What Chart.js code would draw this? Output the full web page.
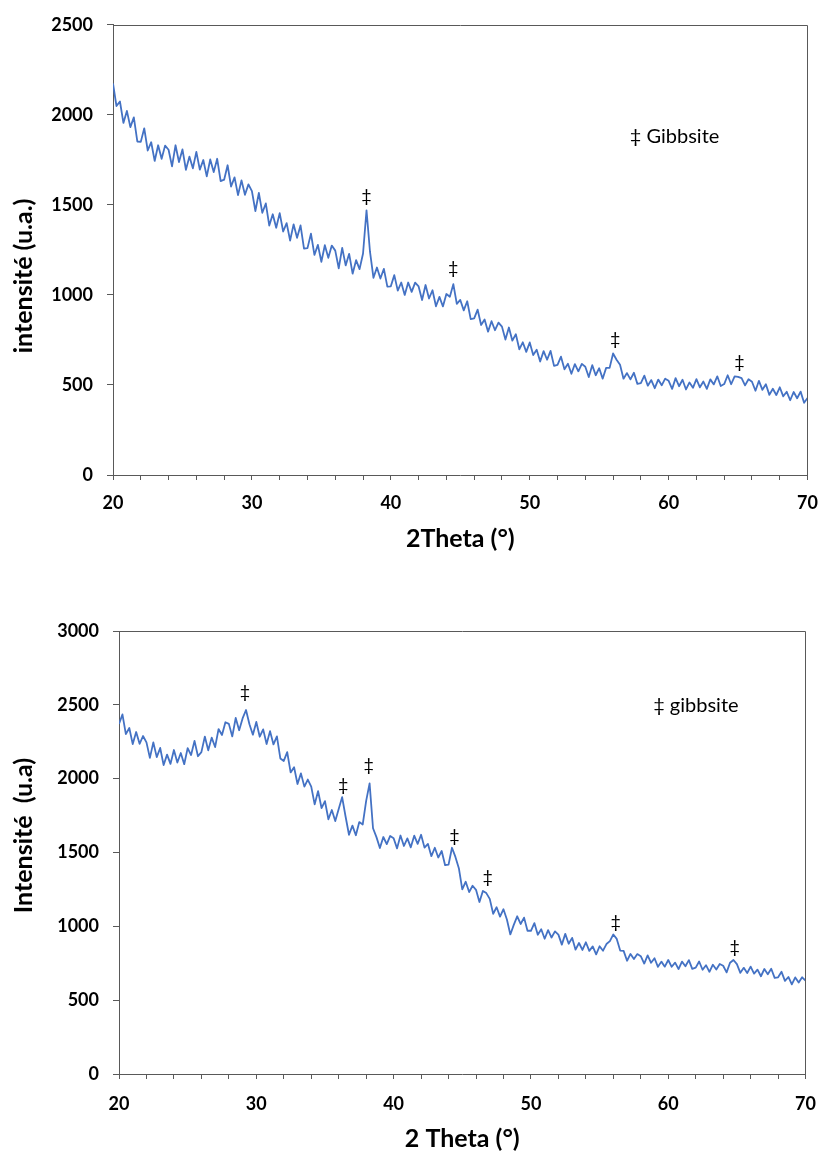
<!DOCTYPE html>
<html>
<head>
<meta charset="utf-8">
<script src="https://cdn.jsdelivr.net/npm/chart.js@4.4.1/dist/chart.umd.min.js"></script>
<style>
  html, body { margin: 0; padding: 0; background: #fff; overflow: hidden; }
  .box { position: absolute; left: 0; width: 830px; }
</style>
</head>
<body>
<div class="box" style="top:0;height:560px"><canvas id="chart1"></canvas></div>
<div class="box" style="top:600px;height:551px"><canvas id="chart2"></canvas></div>
<script>
// 2 theta angles (deg), same for both patterns
const angles = [
  20, 20.25, 20.5, 20.75, 21, 21.25, 21.5, 21.75,
  22, 22.25, 22.5, 22.75, 23, 23.25, 23.5, 23.75,
  24, 24.25, 24.5, 24.75, 25, 25.25, 25.5, 25.75,
  26, 26.25, 26.5, 26.75, 27, 27.25, 27.5, 27.75,
  28, 28.25, 28.5, 28.75, 29, 29.25, 29.5, 29.75,
  30, 30.25, 30.5, 30.75, 31, 31.25, 31.5, 31.75,
  32, 32.25, 32.5, 32.75, 33, 33.25, 33.5, 33.75,
  34, 34.25, 34.5, 34.75, 35, 35.25, 35.5, 35.75,
  36, 36.25, 36.5, 36.75, 37, 37.25, 37.5, 37.75,
  38, 38.25, 38.5, 38.75, 39, 39.25, 39.5, 39.75,
  40, 40.25, 40.5, 40.75, 41, 41.25, 41.5, 41.75,
  42, 42.25, 42.5, 42.75, 43, 43.25, 43.5, 43.75,
  44, 44.25, 44.5, 44.75, 45, 45.25, 45.5, 45.75,
  46, 46.25, 46.5, 46.75, 47, 47.25, 47.5, 47.75,
  48, 48.25, 48.5, 48.75, 49, 49.25, 49.5, 49.75,
  50, 50.25, 50.5, 50.75, 51, 51.25, 51.5, 51.75,
  52, 52.25, 52.5, 52.75, 53, 53.25, 53.5, 53.75,
  54, 54.25, 54.5, 54.75, 55, 55.25, 55.5, 55.75,
  56, 56.25, 56.5, 56.75, 57, 57.25, 57.5, 57.75,
  58, 58.25, 58.5, 58.75, 59, 59.25, 59.5, 59.75,
  60, 60.25, 60.5, 60.75, 61, 61.25, 61.5, 61.75,
  62, 62.25, 62.5, 62.75, 63, 63.25, 63.5, 63.75,
  64, 64.25, 64.5, 64.75, 65, 65.25, 65.5, 65.75,
  66, 66.25, 66.5, 66.75, 67, 67.25, 67.5, 67.75,
  68, 68.25, 68.5, 68.75, 69, 69.25, 69.5, 69.75,
  70
];

// top pattern, intensity (u.a.)
const intensity1 = [
  2174, 2049, 2074, 1955, 2022, 1932, 1986, 1852,
  1850, 1925, 1802, 1848, 1744, 1831, 1756, 1829,
  1806, 1714, 1831, 1738, 1808, 1695, 1768, 1703,
  1794, 1696, 1749, 1658, 1752, 1682, 1756, 1632,
  1640, 1720, 1602, 1653, 1554, 1636, 1556, 1614,
  1576, 1466, 1566, 1456, 1508, 1385, 1448, 1373,
  1454, 1352, 1399, 1302, 1392, 1317, 1386, 1257,
  1260, 1340, 1222, 1278, 1184, 1276, 1206, 1274,
  1246, 1148, 1261, 1164, 1228, 1118, 1193, 1143,
  1230, 1470, 1240, 1095, 1152, 1091, 1145, 1046,
  1048, 1110, 1024, 1069, 1000, 1069, 1017, 1068,
  1047, 972, 1055, 980, 1026, 937, 989, 936,
  1005, 990, 1060, 950, 972, 914, 965, 866,
  870, 918, 833, 864, 796, 854, 804, 846,
  824, 752, 819, 746, 782, 698, 737, 684,
  736, 666, 696, 630, 688, 640, 689, 606,
  612, 657, 587, 618, 562, 616, 576, 617,
  601, 544, 610, 554, 593, 535, 595, 595,
  675, 640, 612, 535, 566, 531, 568, 506,
  510, 552, 496, 527, 482, 530, 498, 535,
  523, 478, 538, 493, 529, 475, 514, 484,
  532, 487, 519, 478, 531, 503, 548, 494,
  505, 554, 504, 548, 545, 538, 498, 532,
  518, 468, 523, 473, 504, 445, 479, 444,
  487, 437, 462, 415, 461, 426, 463, 401,
  428
];

// bottom pattern, intensity (u.a)
const intensity2 = [
  2370, 2435, 2302, 2343, 2234, 2316, 2236, 2289,
  2246, 2141, 2246, 2146, 2208, 2092, 2163, 2100,
  2194, 2109, 2174, 2098, 2207, 2160, 2256, 2152,
  2180, 2285, 2192, 2278, 2214, 2336, 2296, 2382,
  2371, 2286, 2411, 2328, 2408, 2465, 2368, 2298,
  2384, 2284, 2334, 2235, 2322, 2232, 2286, 2137,
  2120, 2180, 2042, 2078, 1964, 2036, 1946, 1994,
  1946, 1826, 1916, 1801, 1848, 1725, 1788, 1713,
  1794, 1875, 1744, 1620, 1682, 1617, 1706, 1690,
  1850, 1968, 1664, 1604, 1530, 1605, 1557, 1612,
  1597, 1528, 1615, 1544, 1596, 1535, 1614, 1558,
  1620, 1533, 1558, 1475, 1532, 1466, 1510, 1414,
  1418, 1532, 1470, 1394, 1250, 1302, 1232, 1275,
  1247, 1165, 1240, 1225, 1186, 1085, 1129, 1066,
  1116, 1046, 945, 1010, 1068, 1016, 1059, 970,
  970, 1022, 943, 980, 916, 974, 924, 966,
  944, 876, 949, 882, 922, 842, 887, 840,
  892, 834, 864, 810, 865, 835, 880, 900,
  945, 915, 836, 834, 767, 813, 778, 812,
  798, 748, 803, 753, 784, 726, 761, 727,
  772, 726, 754, 711, 761, 730, 771, 712,
  720, 762, 706, 737, 692, 740, 708, 745,
  733, 688, 753, 772, 744, 685, 719, 684,
  727, 680, 707, 662, 711, 676, 713, 651,
  655, 692, 631, 657, 607, 654, 620, 655,
  632
];

// gibbsite peak marks (position of the ‡ sign)
const marks1X = [38.25, 44.5, 56.15, 65.1];
const marks1Y = [1549, 1150, 752, 625];
const marks2X = [29.17, 36.33, 38.19, 44.43, 46.86, 56.17, 64.84];
const marks2Y = [2587, 1955, 2091, 1609, 1331, 1025, 862];

// axis limits and tick steps
const xRange = [20, 70];
const y1Range = [0, 2500];
const y2Range = [0, 3000];
const yStep = 500;

Chart.defaults.font.family = 'Lato';
Chart.defaults.color = '#000';

// draws the ‡ marks, the note, the rotated y title and the top/right box lines
const markPlugin = {
    id: 'marks',
    afterDatasetsDraw(chart, args, opts) {
        const ctx = chart.ctx;
        const xs = chart.scales.x;
        const ys = chart.scales.y;
        const area = chart.chartArea;
        ctx.save();
        ctx.fillStyle = '#000';
        ctx.textBaseline = 'middle';
        ctx.textAlign = 'center';
        ctx.font = '18px Lato';
        for (let i = 0; i < opts.markX.length; i++) {
            ctx.fillText('‡', xs.getPixelForValue(opts.markX[i]), ys.getPixelForValue(opts.markY[i]));
        }
        ctx.textAlign = 'left';
        ctx.font = '20px Lato';
        ctx.fillText(opts.note, xs.getPixelForValue(opts.noteX), ys.getPixelForValue(opts.noteY));

        // top and right frame
        ctx.strokeStyle = '#595959';
        ctx.lineWidth = 1;
        ctx.beginPath();
        ctx.moveTo(Math.round(area.left) + 0.5, Math.round(area.top) + 0.5);
        ctx.lineTo(Math.round(area.right) - 0.5, Math.round(area.top) + 0.5);
        ctx.lineTo(Math.round(area.right) - 0.5, Math.round(area.bottom));
        ctx.stroke();

        // y title
        ctx.font = 'bold 25px Lato';
        ctx.textAlign = 'center';
        ctx.translate(opts.titleX, (area.top + area.bottom) / 2 + opts.titleShift);
        ctx.rotate(-Math.PI / 2);
        ctx.fillText(opts.yTitle, 0, 0);
        ctx.restore();
    }
};

function makeConfig(values, yRange, pad, axisW, axisH, tickPad, titlePad, marks) {
    const points = angles.map((a, i) => ({ x: a, y: values[i] }));
    return {
        type: 'line',
        data: {
            datasets: [{
                data: points,
                borderColor: '#4472C4',
                borderWidth: 1.8,
                borderJoinStyle: 'round',
                pointRadius: 0,
                tension: 0,
                fill: false
            }]
        },
        options: {
            responsive: true,
            maintainAspectRatio: false,
            animation: false,
            events: [],
            layout: { padding: pad },
            plugins: {
                legend: { display: false },
                tooltip: { enabled: false },
                marks: marks
            },
            scales: {
                x: {
                    type: 'linear',
                    min: xRange[0],
                    max: xRange[1],
                    afterFit: (s) => { s.height = axisH; },
                    ticks: {
                        stepSize: 2,
                        autoSkip: false,
                        maxRotation: 0,
                        padding: tickPad,
                        font: { size: 18, weight: 'bold' },
                        callback: (v) => (v % 10 === 0 ? String(v) : '')
                    },
                    grid: { drawOnChartArea: false, tickLength: 5, color: '#595959' },
                    border: { color: '#595959', width: 1 },
                    title: {
                        display: true,
                        text: marks.xTitle,
                        font: { size: 25, weight: 'bold', lineHeight: 1 },
                        padding: { top: 0, bottom: titlePad }
                    }
                },
                y: {
                    min: yRange[0],
                    max: yRange[1],
                    afterFit: (s) => { s.width = axisW; },
                    ticks: {
                        stepSize: yStep,
                        padding: 14,
                        font: { size: 18, weight: 'bold' },
                        callback: (v) => String(v)
                    },
                    grid: { drawOnChartArea: false, tickLength: 6, color: '#595959' },
                    border: { color: '#595959', width: 1 }
                }
            }
        },
        plugins: [markPlugin]
    };
}

// top chart
const config1 = makeConfig(intensity1, y1Range, { top: 23, right: 12, left: 0, bottom: 0 }, 113, 85, 12, 9, {
    markX: marks1X,
    markY: marks1Y,
    note: '‡ Gibbsite',
    noteX: 57.2,
    noteY: 1880,
    yTitle: 'intensité (u.a.)',
    titleX: 24,
    titleShift: 26,
    xTitle: '2Theta (°)'
});
window.chart1 = new Chart(document.getElementById('chart1'), config1);

// bottom chart
const config2 = makeConfig(intensity2, y2Range, { top: 31, right: 13, left: 0, bottom: 0 }, 119, 77, 14, 0, {
    markX: marks2X,
    markY: marks2Y,
    note: '‡ gibbsite',
    noteX: 58.9,
    noteY: 2492,
    yTitle: 'Intensité  (u.a)',
    titleX: 24,
    titleShift: -17,
    xTitle: '2 Theta (°)'
});
window.chart2 = new Chart(document.getElementById('chart2'), config2);
</script>
</body>
</html>
